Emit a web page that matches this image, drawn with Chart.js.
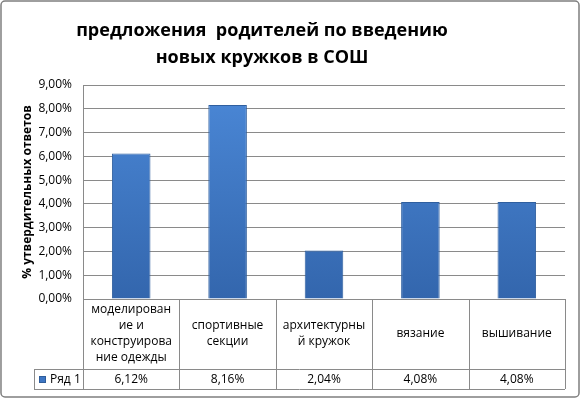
<!DOCTYPE html>
<html>
<head>
<meta charset="utf-8">
<script src="https://cdn.jsdelivr.net/npm/chart.js@4.4.0/dist/chart.umd.min.js"></script>
<style>
  html, body { margin: 0; padding: 0; background: #fff; }
  #wrap { width: 581px; height: 399px; position: relative; }
</style>
</head>
<body>
<div id="wrap"><canvas id="chart" width="581" height="399"></canvas></div>
<script>
// chart data
var titleLines = ["предложения  родителей по введению", "новых кружков в СОШ"];
var yTitle = "% утвердительных ответов";
var categories = [
    ["моделирован", "ие и", "конструирова", "ние одежды"],
    ["спортивные", "секции"],
    ["архитектурны", "й кружок"],
    ["вязание"],
    ["вышивание"]
];
var seriesName = "Ряд 1";
var values = [6.12, 8.16, 2.04, 4.08, 4.08];
var yMax = 9;
var yStep = 1;

var FONT = "'Open Sans', 'Noto Sans', sans-serif";
var LINE = "#8a8a8a";

function pct(v) {
    return v.toFixed(2).replace(".", ",") + "%";
}

// bar fill, dark at bottom like the excel bevel
function barFill(ctx) {
    var area = ctx.chart.chartArea;
    if (!area) return "#3d76c4";
    var g = ctx.chart.ctx.createLinearGradient(0, area.top, 0, area.bottom);
    g.addColorStop(0, "#4b88d7");
    g.addColorStop(1, "#3366ad");
    return g;
}

// title, outer frame and the data table under the plot
var excelBits = {
    id: "excelBits",
    afterDraw: function (chart) {
        var c = chart.ctx;
        var area = chart.chartArea;
        var x = chart.scales.x;
        c.save();

        // frame
        c.strokeStyle = "#7f7f7f";
        c.lineWidth = 1.5;
        c.beginPath();
        c.roundRect(1, 1, 578, 396, 4);
        c.stroke();

        // title
        c.fillStyle = "#000";
        c.font = "bold 18px " + FONT;
        c.textAlign = "center";
        c.textBaseline = "middle";
        c.fillText(titleLines[0], 262, 31);
        c.fillText(titleLines[1], 262, 58);

        // table
        var row1Bottom = area.bottom + 70;
        var row2Bottom = row1Bottom + 20;
        var legLeft = 34;
        var half = (x.getPixelForValue(1) - x.getPixelForValue(0)) / 2;

        c.strokeStyle = LINE;
        c.lineWidth = 1;
        c.beginPath();
        c.moveTo(legLeft, row1Bottom + 0.5);
        c.lineTo(area.right, row1Bottom + 0.5);
        c.moveTo(legLeft, row2Bottom + 0.5);
        c.lineTo(area.right, row2Bottom + 0.5);
        c.moveTo(legLeft + 0.5, row1Bottom);
        c.lineTo(legLeft + 0.5, row2Bottom);
        c.moveTo(area.left + 0.5, area.bottom);
        c.lineTo(area.left + 0.5, row2Bottom);
        for (var i = 0; i < categories.length; i++) {
            var edge = Math.round(x.getPixelForValue(i) + half) + 0.5;
            c.moveTo(edge, area.bottom);
            c.lineTo(edge, row2Bottom);
        }
        c.stroke();

        c.font = "12px " + FONT;
        c.fillStyle = "#000";
        var mid1 = (area.bottom + row1Bottom) / 2;
        var mid2 = (row1Bottom + row2Bottom) / 2 + 1;
        categories.forEach(function (lines, i) {
            var cx = x.getPixelForValue(i);
            var top = mid1 - (lines.length - 1) * 16 / 2;
            lines.forEach(function (t, j) {
                c.fillText(t, cx, top + j * 16);
            });
            c.fillText(pct(values[i]), cx, mid2);
        });

        // legend key
        c.fillStyle = "#3d76c4";
        c.fillRect(39, mid2 - 4, 7, 7);
        c.strokeStyle = "#2f5d9a";
        c.strokeRect(39.5, mid2 - 3.5, 6, 6);
        c.fillStyle = "#000";
        c.textAlign = "left";
        c.fillText(seriesName, 50, mid2);
        c.restore();
    }
};

new Chart(document.getElementById("chart"), {
    type: "bar",
    data: {
        labels: categories,
        datasets: [{
            label: seriesName,
            data: values,
            backgroundColor: barFill,
            borderColor: "#2f5f9f",
            borderWidth: 1,
            barPercentage: 0.4,
            categoryPercentage: 1
        }]
    },
    options: {
        responsive: false,
        animation: false,
        layout: { padding: { top: 85, left: 14, right: 16, bottom: 100 } },
        plugins: {
            legend: { display: false },
            tooltip: { enabled: false }
        },
        scales: {
            x: {
                ticks: { display: false },
                grid: { display: false },
                border: { display: false },
                afterFit: function (s) { s.height = 0; }
            },
            y: {
                min: 0,
                max: yMax,
                ticks: {
                    stepSize: yStep,
                    padding: 11,
                    color: "#000",
                    font: { family: FONT, size: 12 },
                    callback: function (v) { return pct(v); }
                },
                grid: { color: LINE, drawTicks: false },
                border: { color: LINE },
                title: {
                    display: true,
                    text: yTitle,
                    color: "#000",
                    font: { family: FONT, size: 12, weight: "bold" },
                    padding: { top: 6, bottom: 0 }
                },
                afterFit: function (s) { s.width = 69; }
            }
        }
    },
    plugins: [excelBits]
});
</script>
</body>
</html>
